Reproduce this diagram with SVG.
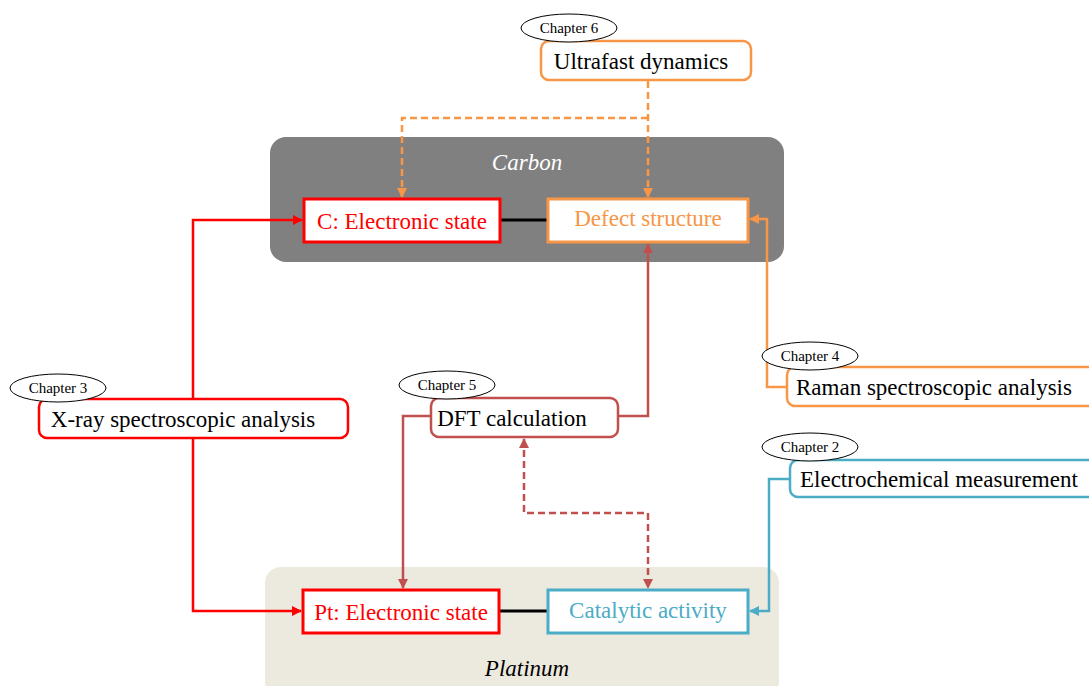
<svg xmlns="http://www.w3.org/2000/svg" width="1089" height="686" viewBox="0 0 1089 686">
<defs>
<style>
text{font-family:"Liberation Serif","Times New Roman",serif}
.lbl{font-size:23px;text-anchor:middle}
.lblL{font-size:23px;text-anchor:start}
.ch{font-size:15px;text-anchor:middle;fill:#000}
.ell{fill:#fff;stroke:#000;stroke-width:1}
.conn{fill:none;stroke-width:2.5}
.dash{stroke-dasharray:7 4}
</style>
<marker id="aRed" viewBox="0 0 10 10" refX="9" refY="5" markerWidth="4" markerHeight="4" orient="auto-start-reverse"><path d="M0,0L10,5L0,10z" fill="#FF0000"/></marker>
<marker id="aOr" viewBox="0 0 10 10" refX="9" refY="5" markerWidth="4" markerHeight="4" orient="auto-start-reverse"><path d="M0,0L10,5L0,10z" fill="#F79646"/></marker>
<marker id="aDk" viewBox="0 0 10 10" refX="9" refY="5" markerWidth="4" markerHeight="4" orient="auto-start-reverse"><path d="M0,0L10,5L0,10z" fill="#C0504D"/></marker>
<marker id="aBl" viewBox="0 0 10 10" refX="9" refY="5" markerWidth="4" markerHeight="4" orient="auto-start-reverse"><path d="M0,0L10,5L0,10z" fill="#4BACC6"/></marker>
</defs>
<rect width="1089" height="686" fill="#fff"/>
<g id="carbon-group">
<rect x="270" y="137" width="514" height="125" rx="16" fill="#808080"/>
<text x="527" y="170" font-size="23" font-style="italic" fill="#fff" text-anchor="middle">Carbon</text>
</g>
<g id="platinum-group">
<rect x="265" y="567" width="514" height="130" rx="16" fill="#ECE9DF"/>
<text x="527" y="676" font-size="23" font-style="italic" fill="#000" text-anchor="middle">Platinum</text>
</g>
<g id="connectors">
<line x1="500" y1="220" x2="548" y2="220" stroke="#000" stroke-width="3"/>
<line x1="499" y1="611" x2="548" y2="611" stroke="#000" stroke-width="3"/>
<path class="conn dash" d="M648,81V197" stroke="#F79646" marker-end="url(#aOr)"/>
<path class="conn dash" d="M648,118H402V197" stroke="#F79646" marker-end="url(#aOr)"/>
<path class="conn" d="M193,399V220H302" stroke="#FF0000" marker-end="url(#aRed)"/>
<path class="conn" d="M193,438V611H301" stroke="#FF0000" marker-end="url(#aRed)"/>
<path class="conn" d="M618,416H648V244" stroke="#C0504D" marker-end="url(#aDk)"/>
<path class="conn" d="M431,416H403V588" stroke="#C0504D" marker-end="url(#aDk)"/>
<path class="conn dash" d="M524,439V513H648V588" stroke="#C0504D" marker-start="url(#aDk)" marker-end="url(#aDk)"/>
<path class="conn" d="M787,387H767V219H750" stroke="#F79646" marker-end="url(#aOr)"/>
<path class="conn" d="M790,479H769V611H750" stroke="#4BACC6" marker-end="url(#aBl)"/>
</g>
<g id="c-electronic">
<rect x="304" y="199" width="196" height="43" fill="#fff" stroke="#FF0000" stroke-width="3"/>
<text class="lbl" x="402" y="229" fill="#FF0000">C: Electronic state</text>
</g>
<g id="defect-structure">
<rect x="548" y="199" width="200" height="43" fill="#fff" stroke="#F79646" stroke-width="3"/>
<text class="lbl" x="648" y="226" fill="#F79646">Defect structure</text>
</g>
<g id="pt-electronic">
<rect x="303" y="590" width="196" height="43" fill="#fff" stroke="#FF0000" stroke-width="3"/>
<text class="lbl" x="401" y="620" fill="#FF0000">Pt: Electronic state</text>
</g>
<g id="catalytic-activity">
<rect x="548" y="590" width="200" height="43" fill="#fff" stroke="#4BACC6" stroke-width="3"/>
<text class="lbl" x="648" y="618" fill="#4BACC6">Catalytic activity</text>
</g>
<g id="ultrafast">
<rect x="541" y="41" width="210" height="39" rx="8" fill="#fff" stroke="#F79646" stroke-width="2.5"/>
<text class="lbl" x="641" y="69" fill="#000">Ultrafast dynamics</text>
<ellipse class="ell" cx="569" cy="28" rx="48" ry="14"/>
<text class="ch" x="569" y="33">Chapter  6</text>
</g>
<g id="xray">
<rect x="39" y="399" width="309" height="39" rx="8" fill="#fff" stroke="#FF0000" stroke-width="2.5"/>
<text class="lbl" x="183" y="427" fill="#000">X-ray spectroscopic analysis</text>
<ellipse class="ell" cx="58" cy="388" rx="48" ry="14"/>
<text class="ch" x="58" y="393">Chapter  3</text>
</g>
<g id="dft">
<rect x="431" y="398" width="187" height="39" rx="8" fill="#fff" stroke="#C0504D" stroke-width="2.5"/>
<text class="lbl" x="512" y="426" fill="#000">DFT calculation</text>
<ellipse class="ell" cx="447" cy="385" rx="48" ry="14"/>
<text class="ch" x="447" y="390">Chapter  5</text>
</g>
<g id="raman">
<rect x="787" y="367" width="310" height="39" rx="8" fill="#fff" stroke="#F79646" stroke-width="2.5"/>
<text class="lblL" x="796" y="395" fill="#000">Raman spectroscopic analysis</text>
<ellipse class="ell" cx="810" cy="356" rx="48" ry="14"/>
<text class="ch" x="810" y="361">Chapter  4</text>
</g>
<g id="electrochem">
<rect x="790" y="460" width="310" height="37" rx="8" fill="#fff" stroke="#4BACC6" stroke-width="2.5"/>
<text class="lblL" x="800" y="487" fill="#000">Electrochemical measurement</text>
<ellipse class="ell" cx="810" cy="447" rx="48" ry="14"/>
<text class="ch" x="810" y="452">Chapter  2</text>
</g>
</svg>
